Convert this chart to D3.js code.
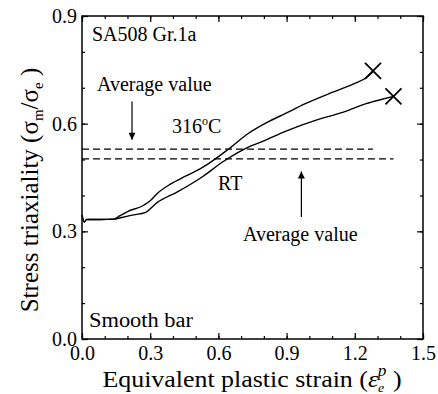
<!DOCTYPE html>
<html>
<head>
<meta charset="utf-8">
<script src="https://cdn.jsdelivr.net/npm/d3@7"></script>
<style>
  body { margin: 0; background: #fff; }
  svg { font-family: "Liberation Serif", "Times New Roman", serif; }
</style>
</head>
<body>
<svg id="svg"></svg>
<script>
// values
const xMajor = [0, 0.3, 0.6, 0.9, 1.2, 1.5];
const yMajor = [0, 0.3, 0.6, 0.9];
const xMinor = d3.range(0, 1.51, 0.1);
const yMinor = d3.range(0, 0.91, 0.1);

const hot = [ // 316 C
  [0, 0.345], [0.01, 0.326], [0.02, 0.333], [0.08, 0.333], [0.14, 0.334], [0.165, 0.343], [0.2, 0.355],
  [0.27, 0.372], [0.3, 0.385], [0.33, 0.405], [0.39, 0.432], [0.46, 0.455],
  [0.53, 0.478], [0.64, 0.527], [0.73, 0.572], [0.81, 0.602], [0.9, 0.63],
  [0.98, 0.655], [1.1, 0.687], [1.2, 0.712], [1.25, 0.728], [1.28, 0.745]
];
const room = [ // RT
  [0, 0.345], [0.01, 0.326], [0.02, 0.333], [0.08, 0.333], [0.14, 0.334], [0.17, 0.338], [0.22, 0.345],
  [0.28, 0.353], [0.33, 0.38], [0.42, 0.41], [0.53, 0.452], [0.62, 0.494],
  [0.71, 0.528], [0.8, 0.552], [0.9, 0.58], [1.03, 0.61], [1.15, 0.632],
  [1.25, 0.656], [1.32, 0.668], [1.37, 0.676]
];
const ends = [[1.28, 0.747], [1.37, 0.676]];
const avgHot = 0.529, avgRoom = 0.502;
const avgHotEnd = 1.28, avgRoomEnd = 1.37;

const width = 438, height = 394;
const margin = { left: 82, right: 15, top: 16, bottom: 55 };

const x = d3.scaleLinear().domain([0, 1.5]).range([margin.left, width - margin.right]);
const y = d3.scaleLinear().domain([0, 0.9]).range([height - margin.bottom, margin.top]);

const svg = d3.select('#svg')
    .attr('width', width)
    .attr('height', height)
    .attr('viewBox', [0, 0, width, height]);

svg.append('defs').append('marker')
    .attr('id', 'arrow')
    .attr('viewBox', '0 0 10 10')
    .attr('refX', 10).attr('refY', 5)
    .attr('markerWidth', 10).attr('markerHeight', 7)
    .attr('markerUnits', 'userSpaceOnUse')
    .attr('orient', 'auto')
  .append('path')
    .attr('d', 'M0,0L10,5L0,10Z')
    .attr('fill', '#000');

// axes: ticks pointing in, on all four sides
const x0 = x.range()[0], x1 = x.range()[1], y0 = y.range()[0], y1 = y.range()[1];
function axis(gen, tr, vals, size, labels) {
  const g = svg.append('g').attr('transform', tr)
      .call(gen.tickValues(vals).tickSize(size).tickFormat(labels ? d3.format('.1f') : ''));
  g.select('.domain').remove();
  g.selectAll('line').attr('stroke', '#000').attr('stroke-width', 1.2);
  return g;
}
axis(d3.axisBottom(x), `translate(0,${y0})`, xMinor, -3, false);
axis(d3.axisTop(x), `translate(0,${y1})`, xMinor, -3, false);
axis(d3.axisLeft(y), `translate(${x0},0)`, yMinor, -3, false);
axis(d3.axisRight(y), `translate(${x1},0)`, yMinor, -3, false);
axis(d3.axisTop(x), `translate(0,${y1})`, xMajor, -6, false);
axis(d3.axisRight(y), `translate(${x1},0)`, yMajor, -6, false);

const bx = axis(d3.axisBottom(x), `translate(0,${y0})`, xMajor, -6, true);
bx.selectAll('text').attr('y', 7).attr('dy', '0.71em')
    .attr('font-size', 20).attr('font-family', 'Liberation Serif').attr('fill', '#000');
const ly = axis(d3.axisLeft(y), `translate(${x0},0)`, yMajor, -6, true);
ly.selectAll('text').attr('x', -5).attr('dy', '0.32em')
    .attr('font-size', 20).attr('font-family', 'Liberation Serif').attr('fill', '#000');

svg.append('rect')
    .attr('x', x0).attr('y', y1)
    .attr('width', x1 - x0).attr('height', y0 - y1)
    .attr('fill', 'none').attr('stroke', '#000').attr('stroke-width', 1.5);

// average lines
svg.selectAll('line.avg')
  .data([[avgHot, avgHotEnd], [avgRoom, avgRoomEnd]])
  .join('line')
    .attr('x1', x(0)).attr('x2', d => x(d[1]))
    .attr('y1', d => y(d[0])).attr('y2', d => y(d[0]))
    .attr('stroke', '#000').attr('stroke-width', 1.2)
    .attr('stroke-dasharray', '7,4');

const line = d3.line().x(d => x(d[0])).y(d => y(d[1])).curve(d3.curveMonotoneX);
svg.selectAll('path.curve')
  .data([hot, room])
  .join('path')
    .attr('d', line)
    .attr('fill', 'none').attr('stroke', '#000').attr('stroke-width', 1.4);

// end markers
const s = 8;
svg.selectAll('path.cross')
  .data(ends)
  .join('path')
    .attr('d', d => `M${x(d[0]) - s},${y(d[1]) - s}L${x(d[0]) + s},${y(d[1]) + s}M${x(d[0]) - s},${y(d[1]) + s}L${x(d[0]) + s},${y(d[1]) - s}`)
    .attr('stroke', '#000').attr('stroke-width', 1.8).attr('fill', 'none');

// arrows
svg.append('line')
    .attr('x1', x(0.22)).attr('x2', x(0.22))
    .attr('y1', y(0.662)).attr('y2', y(0.555))
    .attr('stroke', '#000').attr('stroke-width', 1.2)
    .attr('marker-end', 'url(#arrow)');
svg.append('line')
    .attr('x1', x(0.965)).attr('x2', x(0.965))
    .attr('y1', y(0.34)).attr('y2', y(0.467))
    .attr('stroke', '#000').attr('stroke-width', 1.2)
    .attr('marker-end', 'url(#arrow)');

// labels
const label = (t, px, py, size) => svg.append('text')
    .attr('x', px).attr('y', py).attr('font-size', size).attr('fill', '#000').text(t);
label('SA508 Gr.1a', 92, 41, 20);
label('Average value', 97, 91, 20);
label('RT', 218, 190, 20);
label('Average value', 243, 241, 20);
label('Smooth bar', 89, 327, 20).attr('textLength', 104).attr('lengthAdjust', 'spacingAndGlyphs');
const t316 = label('316', 172, 133, 20);
t316.append('tspan').attr('dy', -8).attr('font-size', 12).text('o');
t316.append('tspan').attr('dy', 8).text('C');

// axis titles
const xt = svg.append('text')
    .attr('transform', 'translate(252,387) scale(1.08,1)')
    .attr('text-anchor', 'middle')
    .attr('font-size', 24).attr('fill', '#000')
    .text('Equivalent plastic strain (');
xt.append('tspan').attr('font-style', 'italic').text('ε');
xt.append('tspan').attr('font-style', 'italic').attr('font-size', 13).attr('dy', 5).text('e');
xt.append('tspan').attr('font-style', 'italic').attr('font-size', 16).attr('dx', -6).attr('dy', -16).text('p');
xt.append('tspan').attr('dy', 11).text(' )');

const yt = svg.append('text')
    .attr('transform', `translate(38,190) rotate(-90)`)
    .attr('text-anchor', 'middle')
    .attr('font-size', 25).attr('fill', '#000')
    .text('Stress triaxiality (σ');
yt.append('tspan').attr('font-size', 15).attr('dy', 5).text('m');
yt.append('tspan').attr('dy', -5).text('/σ');
yt.append('tspan').attr('font-size', 15).attr('dy', 5).text('e');
yt.append('tspan').attr('dy', -5).text(' )');
</script>
</body>
</html>
